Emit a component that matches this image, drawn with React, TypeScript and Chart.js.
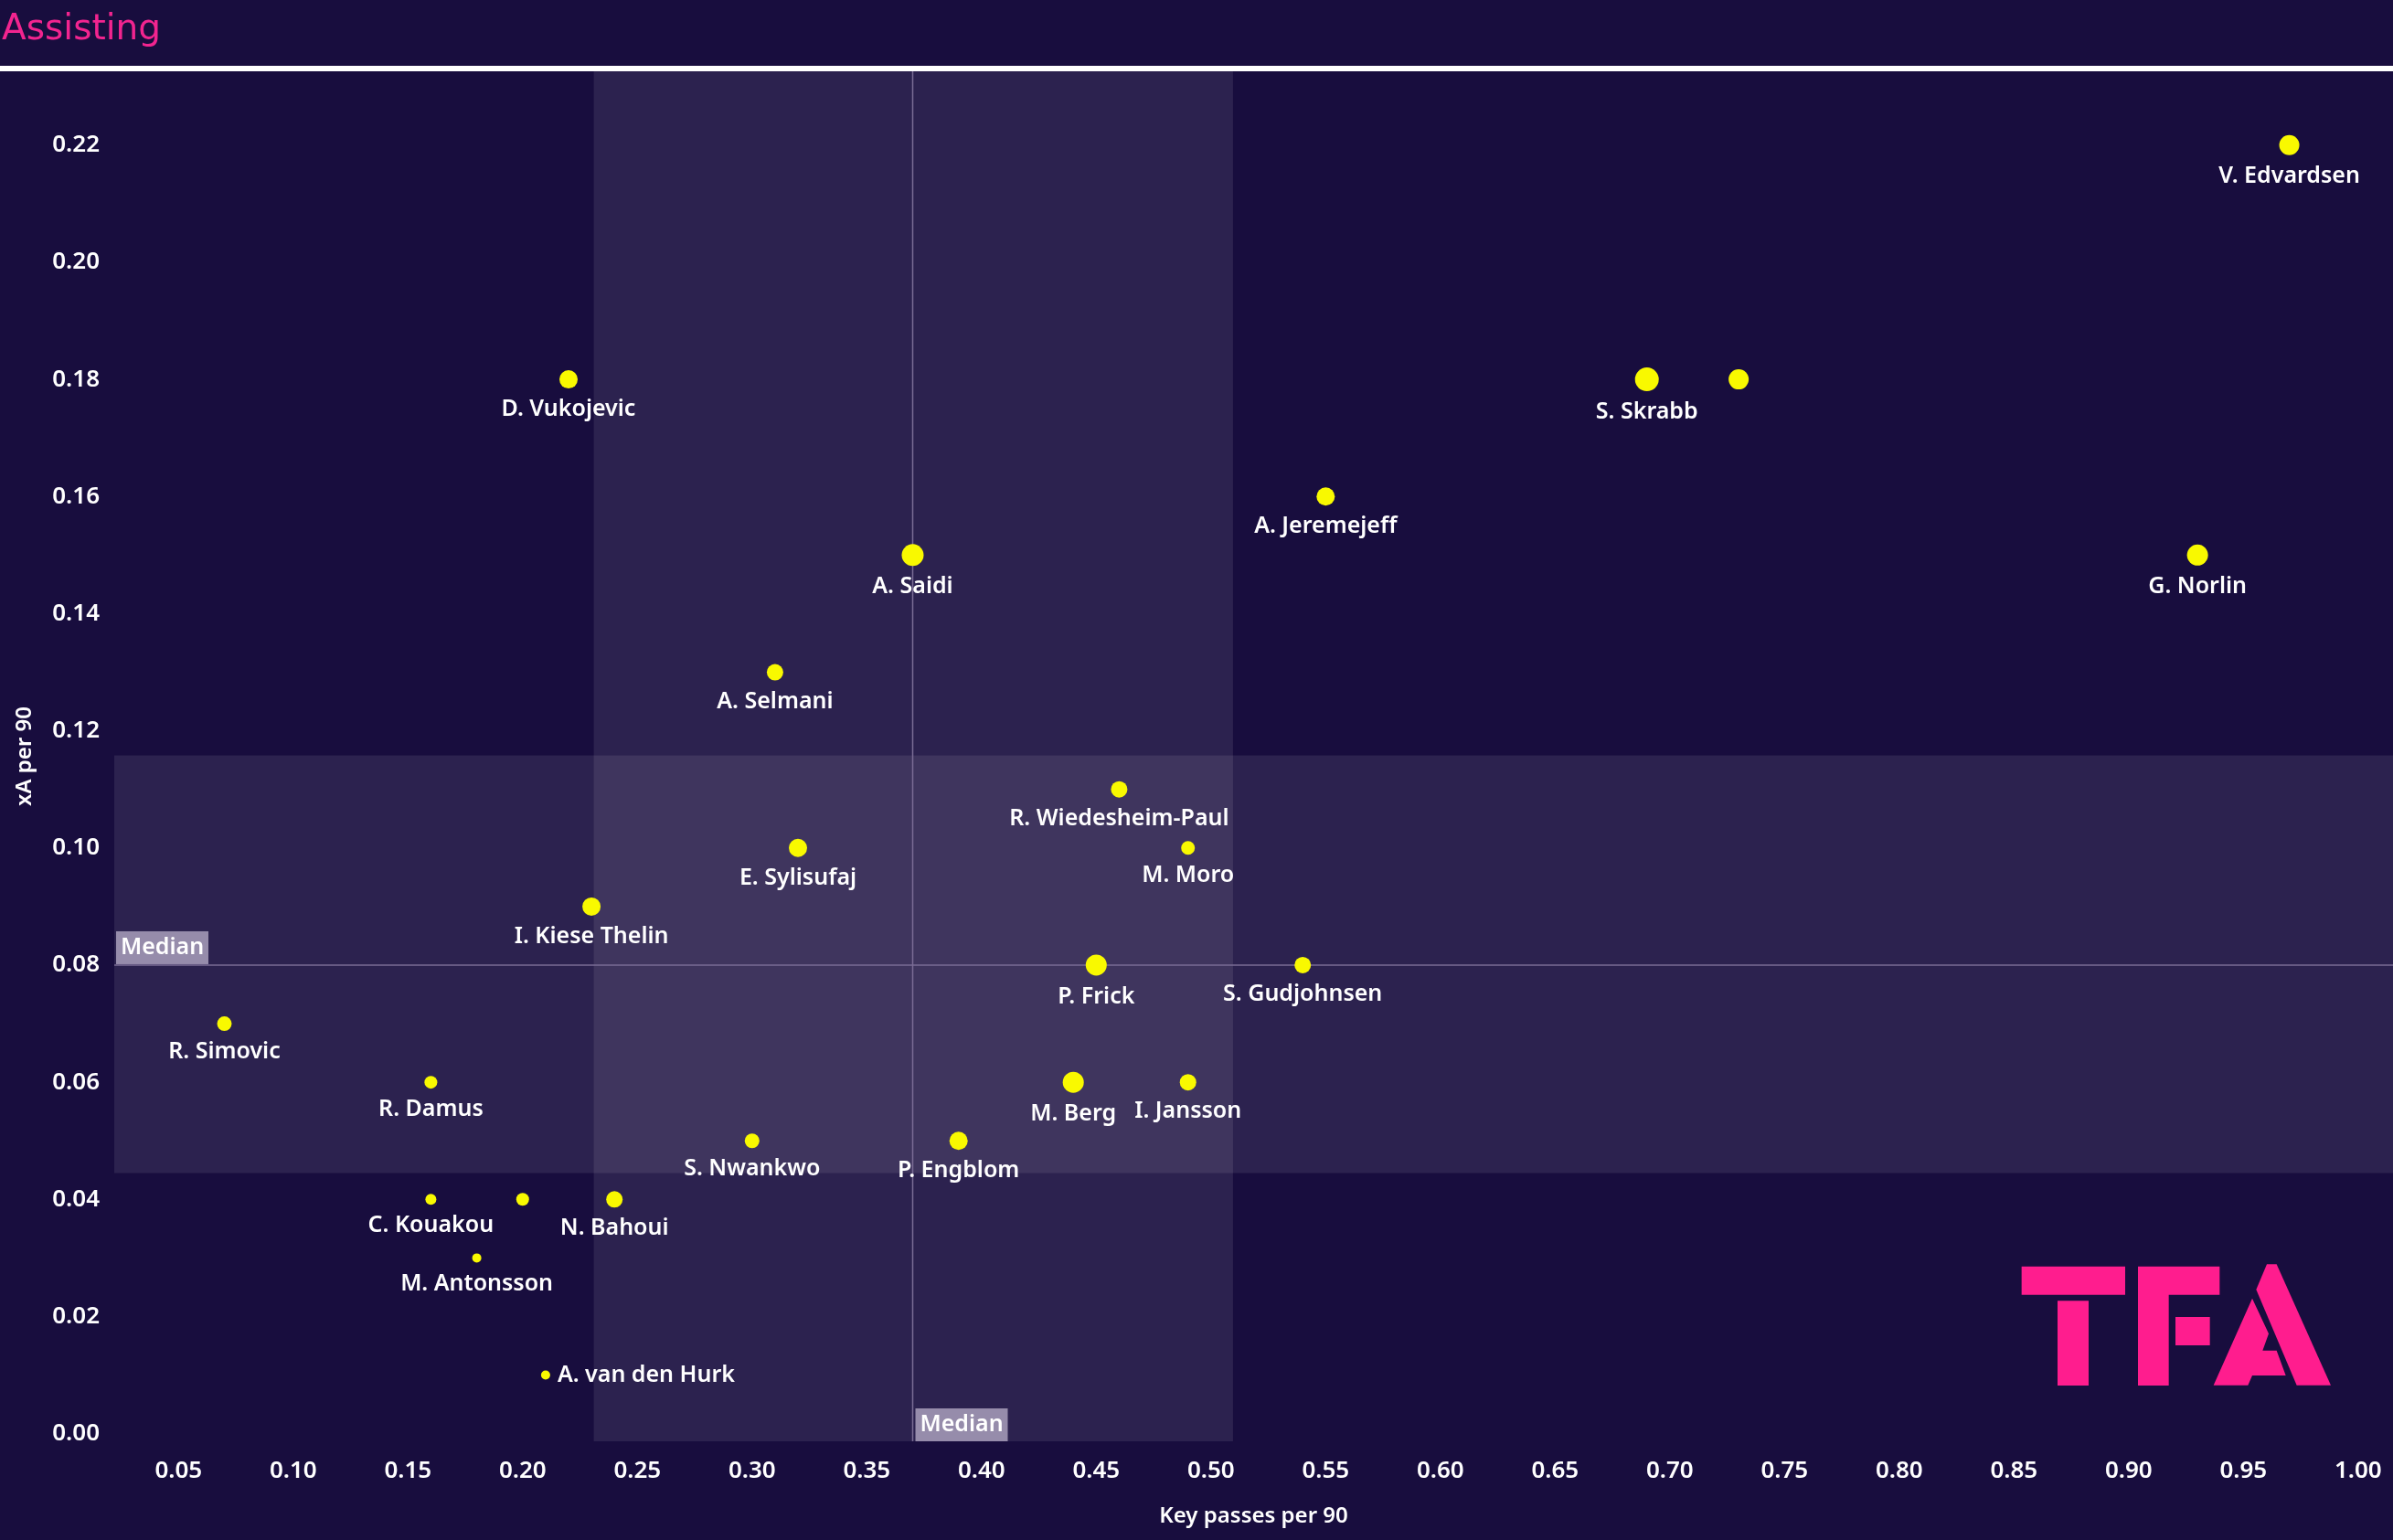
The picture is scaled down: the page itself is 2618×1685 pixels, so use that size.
import React, { useEffect, useRef } from "react";
import { Chart, registerables } from "chart.js";

Chart.register(...registerables);

// ---------- DATA ----------
const players = [
  "V. Edvardsen", "S. Skrabb", "", "G. Norlin", "A. Jeremejeff", "D. Vukojevic",
  "A. Saidi", "A. Selmani", "R. Wiedesheim-Paul", "E. Sylisufaj", "M. Moro",
  "I. Kiese Thelin", "P. Frick", "S. Gudjohnsen", "R. Simovic", "R. Damus",
  "M. Berg", "I. Jansson", "S. Nwankwo", "P. Engblom", "C. Kouakou", "",
  "N. Bahoui", "M. Antonsson", "A. van den Hurk",
];
const keyPassesPer90 = [
  0.97, 0.69, 0.73, 0.93, 0.55, 0.22, 0.37, 0.31, 0.46, 0.32, 0.49, 0.23, 0.45,
  0.54, 0.07, 0.16, 0.44, 0.49, 0.3, 0.39, 0.16, 0.2, 0.24, 0.18, 0.21,
];
const xAPer90 = [
  0.22, 0.18, 0.18, 0.15, 0.16, 0.18, 0.15, 0.13, 0.11, 0.1, 0.1, 0.09, 0.08,
  0.08, 0.07, 0.06, 0.06, 0.06, 0.05, 0.05, 0.04, 0.04, 0.04, 0.03, 0.01,
];
const pointRadii = [
  11, 13, 11, 11.5, 10, 10, 12, 9, 9, 10, 7.5, 10, 11.5, 9, 8, 7, 11.5, 9, 8, 10,
  6, 7, 9, 5, 5,
];
const labelsOnRight = ["A. van den Hurk"];

const xTickValues = [
  0.05, 0.1, 0.15, 0.2, 0.25, 0.3, 0.35, 0.4, 0.45, 0.5, 0.55, 0.6, 0.65, 0.7,
  0.75, 0.8, 0.85, 0.9, 0.95, 1.0,
];
const yTickValues = [0, 0.02, 0.04, 0.06, 0.08, 0.1, 0.12, 0.14, 0.16, 0.18, 0.2, 0.22];

const medianKeyPasses = 0.37;
const medianXA = 0.08;
const bandKeyPasses = [0.231, 0.5096];
const bandXA = [0.0445, 0.1158];

const titleText = "Assisting";
const xTitle = "Key passes per 90";
const yTitle = "xA per 90";
const medianLabel = "Median";

// ---------- STYLE ----------
const W = 2618;
const H = 1685;
const BG = "rgb(24,13,62)";
const PINK = "#f2248f";
const LOGO_PINK = "#ff1d8e";
const YELLOW = "#f9f900";
const FONT = '"Noto Sans", "Open Sans", sans-serif';

const decorPlugin = {
  id: "decor",
  beforeDraw(chart: any) {
    const { ctx, chartArea } = chart;
    const x = chart.scales.x;
    const y = chart.scales.y;
    ctx.save();
    ctx.fillStyle = BG;
    ctx.fillRect(0, 0, chart.width, chart.height);

    // title
    ctx.fillStyle = PINK;
    ctx.font = '39px "DejaVu Sans", sans-serif';
    ctx.textAlign = "left";
    ctx.textBaseline = "alphabetic";
    ctx.fillText(titleText, 2, 43);

    // white rule
    ctx.fillStyle = "#ffffff";
    ctx.fillRect(0, 72, chart.width, 6);

    // reference bands
    ctx.fillStyle = "rgba(255,255,255,0.09)";
    const bx0 = x.getPixelForValue(bandKeyPasses[0]);
    const bx1 = x.getPixelForValue(bandKeyPasses[1]);
    ctx.fillRect(bx0, chartArea.top, bx1 - bx0, chartArea.bottom - chartArea.top);
    const by0 = y.getPixelForValue(bandXA[0]);
    const by1 = y.getPixelForValue(bandXA[1]);
    ctx.fillRect(chartArea.left, by1, chartArea.right - chartArea.left, by0 - by1);

    // median lines
    ctx.strokeStyle = "#7a6c95";
    ctx.lineWidth = 1.5;
    const mx = x.getPixelForValue(medianKeyPasses);
    const my = y.getPixelForValue(medianXA);
    ctx.beginPath();
    ctx.moveTo(mx, chartArea.top);
    ctx.lineTo(mx, chartArea.bottom);
    ctx.moveTo(chartArea.left, my);
    ctx.lineTo(chartArea.right, my);
    ctx.stroke();

    // median labels
    ctx.font = `600 25px ${FONT}`;
    ctx.textBaseline = "middle";
    ctx.textAlign = "left";
    const boxW = 101;
    const boxH = 36;
    ctx.fillStyle = "#968cab";
    ctx.fillRect(chartArea.left + 2, my - boxH - 1, boxW, boxH);
    ctx.fillRect(mx + 3, chartArea.bottom - boxH, boxW, boxH);
    ctx.fillStyle = "#ffffff";
    ctx.fillText(medianLabel, chartArea.left + 7, my - boxH / 2 - 1);
    ctx.fillText(medianLabel, mx + 8, chartArea.bottom - boxH / 2);
    ctx.restore();
  },
  afterDatasetsDraw(chart: any) {
    const { ctx } = chart;
    const meta = chart.getDatasetMeta(0);
    ctx.save();
    ctx.fillStyle = "#ffffff";
    ctx.font = `600 25px ${FONT}`;
    ctx.textBaseline = "middle";
    meta.data.forEach((el: any, i: number) => {
      const name = players[i];
      if (!name) return;
      const r = pointRadii[i];
      if (labelsOnRight.includes(name)) {
        ctx.textAlign = "left";
        ctx.fillText(name, el.x + 13, el.y);
      } else {
        ctx.textAlign = "center";
        ctx.fillText(name, el.x, el.y + r + 23);
      }
    });

    // TFA logo
    const ox = 2150;
    const oy = 1350;
    const s = 1 / 3;
    const poly = (pts: number[][]) => {
      ctx.beginPath();
      pts.forEach((p, k) => {
        const px = ox + p[0] * s;
        const py = oy + p[1] * s;
        if (k === 0) ctx.moveTo(px, py);
        else ctx.lineTo(px, py);
      });
      ctx.closePath();
      ctx.fill();
    };
    ctx.fillStyle = LOGO_PINK;
    // T
    poly([[185, 107], [525, 107], [525, 200], [185, 200]]);
    poly([[303, 220], [405, 220], [405, 498], [303, 498]]);
    // F
    poly([[567, 107], [835, 107], [835, 200], [668, 200], [668, 498], [567, 498]]);
    poly([[690, 273], [803, 273], [803, 366], [690, 366]]);
    // A right stroke
    poly([[990, 100], [1022, 100], [1200, 497], [1088, 497], [955, 183]]);
    // A left part
    poly([[942, 212], [996, 328], [976, 383], [1022, 383], [1052, 465], [942, 465], [928, 497], [815, 497]]);
    ctx.restore();
  },
};

export default function App() {
  const ref = useRef<HTMLCanvasElement | null>(null);

  useEffect(() => {
    document.body.style.margin = "0";
    document.body.style.background = BG;
    const canvas = ref.current;
    if (!canvas) return;
    const points = keyPassesPer90.map((v, i) => ({ x: v, y: xAPer90[i] }));
    const tickFont = { family: FONT, size: 26, weight: "600" as any };
    const chart = new Chart(canvas, {
      type: "scatter",
      data: {
        datasets: [
          {
            data: points,
            backgroundColor: YELLOW,
            borderWidth: 0,
            pointRadius: pointRadii,
            pointHoverRadius: pointRadii,
            clip: false as any,
          },
        ],
      },
      options: {
        animation: false,
        responsive: false,
        devicePixelRatio: 1,
        layout: { autoPadding: false, padding: { top: 78, left: 0, right: 0, bottom: 0 } },
        plugins: {
          legend: { display: false },
          tooltip: { enabled: false },
          title: { display: false },
        },
        scales: {
          x: {
            type: "linear",
            min: 0.022,
            max: 1.0152,
            grid: { display: false, drawTicks: false },
            border: { display: false },
            afterBuildTicks: (scale: any) => {
              scale.ticks = xTickValues.map((v) => ({ value: v }));
            },
            afterFit: (scale: any) => {
              scale.height = 108;
              scale.paddingLeft = 0;
              scale.paddingRight = 0;
            },
            ticks: {
              color: "#ffffff",
              font: tickFont,
              padding: 17,
              maxRotation: 0,
              autoSkip: false,
              callback: (v: any) => Number(v).toFixed(2),
            },
            title: {
              display: true,
              text: xTitle,
              color: "#ffffff",
              font: { family: FONT, size: 24, weight: "600" as any },
              padding: { top: 0, bottom: 11 },
            },
          },
          y: {
            type: "linear",
            min: -0.0013,
            max: 0.2326,
            grid: { display: false, drawTicks: false },
            border: { display: false },
            afterBuildTicks: (scale: any) => {
              scale.ticks = yTickValues.map((v) => ({ value: v }));
            },
            afterFit: (scale: any) => {
              scale.width = 125;
              scale.paddingTop = 0;
              scale.paddingBottom = 0;
            },
            ticks: {
              color: "#ffffff",
              font: tickFont,
              padding: 16,
              autoSkip: false,
              callback: (v: any) => Number(v).toFixed(2),
            },
            title: {
              display: true,
              text: yTitle,
              color: "#ffffff",
              font: { family: FONT, size: 24, weight: "600" as any },
              padding: { top: 13, bottom: 0 },
            },
          },
        },
      },
      plugins: [decorPlugin],
    });
    return () => chart.destroy();
  }, []);

  return (
    <canvas
      ref={ref}
      width={W}
      height={H}
      style={{ display: "block", width: W, height: H }}
    />
  );
}
